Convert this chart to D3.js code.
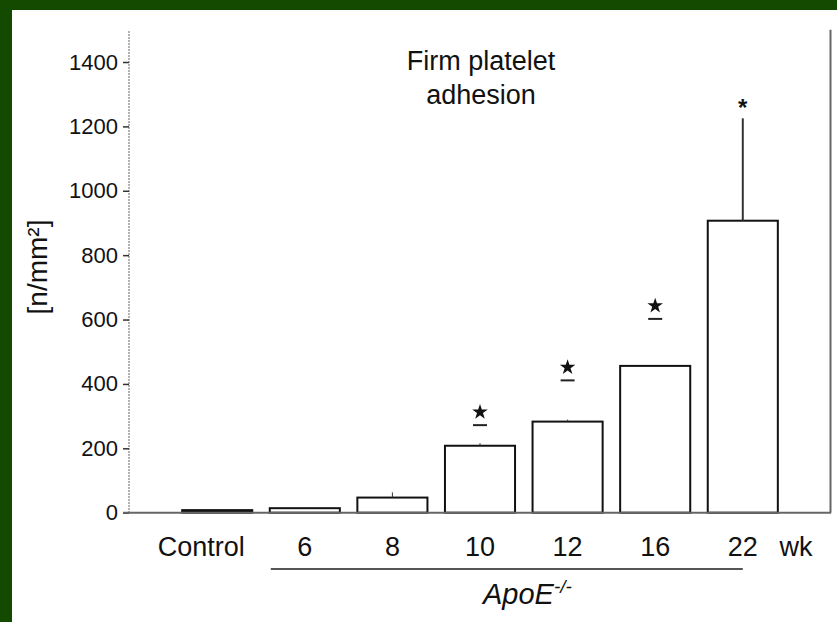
<!DOCTYPE html>
<html>
<head>
<meta charset="utf-8">
<script src="https://cdnjs.cloudflare.com/ajax/libs/d3/7.8.5/d3.min.js"></script>
<style>
  body { margin: 0; background: #134a00; }
  svg { display: block; }
  text { font-family: Arial, "Liberation Sans", sans-serif; fill: #111; }
</style>
</head>
<body>
<script>
var categories = ["Control", "6", "8", "10", "12", "16", "22"];
var means = [8, 14, 47, 208, 283, 456, 907];
var errors = [0, 3, 16, 8, 6, 0, 318];
var sigLines = [null, null, null, 272, 411, 602, null];
var yTicks = [0, 200, 400, 600, 800, 1000, 1200, 1400];

var width = 837;
var height = 622;

var svg = d3.select("body").append("svg")
    .attr("width", width)
    .attr("height", height);

// green frame on top and left only
svg.append("rect")
    .attr("x", 12)
    .attr("y", 10)
    .attr("width", width - 12)
    .attr("height", height - 10)
    .attr("fill", "white");

var x = d3.scaleBand()
    .domain(categories)
    .range([129, 831])
    .paddingInner(0.2)
    .paddingOuter(0.607);

var y = d3.scaleLinear()
    .domain([0, 1400])
    .range([512.7, 62]);

// y axis (dotted)
svg.append("line")
    .attr("x1", 129).attr("x2", 129)
    .attr("y1", y(0)).attr("y2", y(1500))
    .attr("stroke", "#777")
    .attr("stroke-width", 1.5)
    .attr("stroke-dasharray", "1.5,1.5");

var yAxis = svg.append("g")
    .attr("transform", "translate(129,0)")
    .call(d3.axisLeft(y).tickValues(yTicks).tickFormat(d3.format("d")).tickSize(6).tickPadding(5));
yAxis.select(".domain").remove();
yAxis.selectAll(".tick line").attr("stroke", "#333").attr("stroke-width", 1.5);
yAxis.selectAll(".tick text")
    .attr("font-size", 22)
    .attr("font-family", "Arial, 'Liberation Sans', sans-serif")
    .attr("fill", "#111");

// right frame line
svg.append("line")
    .attr("x1", 830.5).attr("x2", 830.5)
    .attr("y1", y(1500)).attr("y2", y(0))
    .attr("stroke", "#666")
    .attr("stroke-width", 2);

// bars
svg.selectAll(".bar")
    .data(categories)
    .enter().append("rect")
    .attr("class", "bar")
    .attr("x", function(d) { return x(d); })
    .attr("width", x.bandwidth())
    .attr("y", function(d, i) { return y(means[i]); })
    .attr("height", function(d, i) { return y(0) - y(means[i]); })
    .attr("fill", function(d, i) { return i === 0 ? "#111" : "white"; })
    .attr("stroke", "#111")
    .attr("stroke-width", 2);

// error bars (upper only)
svg.selectAll(".err")
    .data(categories)
    .enter().append("line")
    .attr("class", "err")
    .attr("x1", function(d) { return x(d) + x.bandwidth() / 2; })
    .attr("x2", function(d) { return x(d) + x.bandwidth() / 2; })
    .attr("y1", function(d, i) { return y(means[i]); })
    .attr("y2", function(d, i) { return y(means[i] + errors[i]); })
    .attr("stroke", "#333")
    .attr("stroke-width", function(d, i) { return errors[i] > 100 ? 2 : 1; });

// baseline
svg.append("line")
    .attr("x1", 123).attr("x2", 831)
    .attr("y1", y(0)).attr("y2", y(0))
    .attr("stroke", "#666")
    .attr("stroke-width", 2);

// significance marks
categories.forEach(function(c, i) {
    var cx = x(c) + x.bandwidth() / 2;
    if (sigLines[i] !== null) {
        svg.append("line")
            .attr("x1", cx - 7).attr("x2", cx + 7)
            .attr("y1", y(sigLines[i])).attr("y2", y(sigLines[i]))
            .attr("stroke", "#222")
            .attr("stroke-width", 2);
        svg.append("path")
            .attr("d", d3.symbol().type(d3.symbolStar).size(75)())
            .attr("transform", "translate(" + cx + "," + (y(sigLines[i]) - 13) + ")")
            .attr("fill", "#111");
    } else if (errors[i] > 100) {
        svg.append("text")
            .attr("x", cx)
            .attr("y", y(means[i] + errors[i]) - 2)
            .attr("text-anchor", "middle")
            .attr("font-size", 24)
            .attr("font-weight", "bold")
            .text("*");
    }
});

// x labels
svg.selectAll(".xlab")
    .data(categories)
    .enter().append("text")
    .attr("class", "xlab")
    .attr("x", function(d) { return x(d) + x.bandwidth() / 2; })
    .attr("dx", function(d, i) { return i === 0 ? -16 : 0; })
    .attr("y", 556)
    .attr("text-anchor", "middle")
    .attr("font-size", 27)
    .text(function(d) { return d; });

svg.append("text")
    .attr("x", 796)
    .attr("y", 556)
    .attr("text-anchor", "middle")
    .attr("font-size", 27)
    .text("wk");

// ApoE group line
svg.append("line")
    .attr("x1", x("6") + 1).attr("x2", x("22") + x.bandwidth() / 2)
    .attr("y1", 569).attr("y2", 569)
    .attr("stroke", "#555")
    .attr("stroke-width", 2);

var apo = svg.append("text")
    .attr("x", 483)
    .attr("y", 604)
    .attr("font-size", 29)
    .attr("font-style", "italic");
apo.append("tspan").text("ApoE");
apo.append("tspan")
    .attr("dy", -11)
    .attr("font-size", 19)
    .text("-/-");

// title
svg.append("text")
    .attr("x", 481)
    .attr("y", 70)
    .attr("text-anchor", "middle")
    .attr("font-size", 27)
    .text("Firm platelet");
svg.append("text")
    .attr("x", 481)
    .attr("y", 104)
    .attr("text-anchor", "middle")
    .attr("font-size", 27)
    .text("adhesion");

// y label
svg.append("text")
    .attr("transform", "translate(47,267) rotate(-90)")
    .attr("text-anchor", "middle")
    .attr("font-size", 28)
    .text("[n/mm\u00b2]");
</script>
</body>
</html>
